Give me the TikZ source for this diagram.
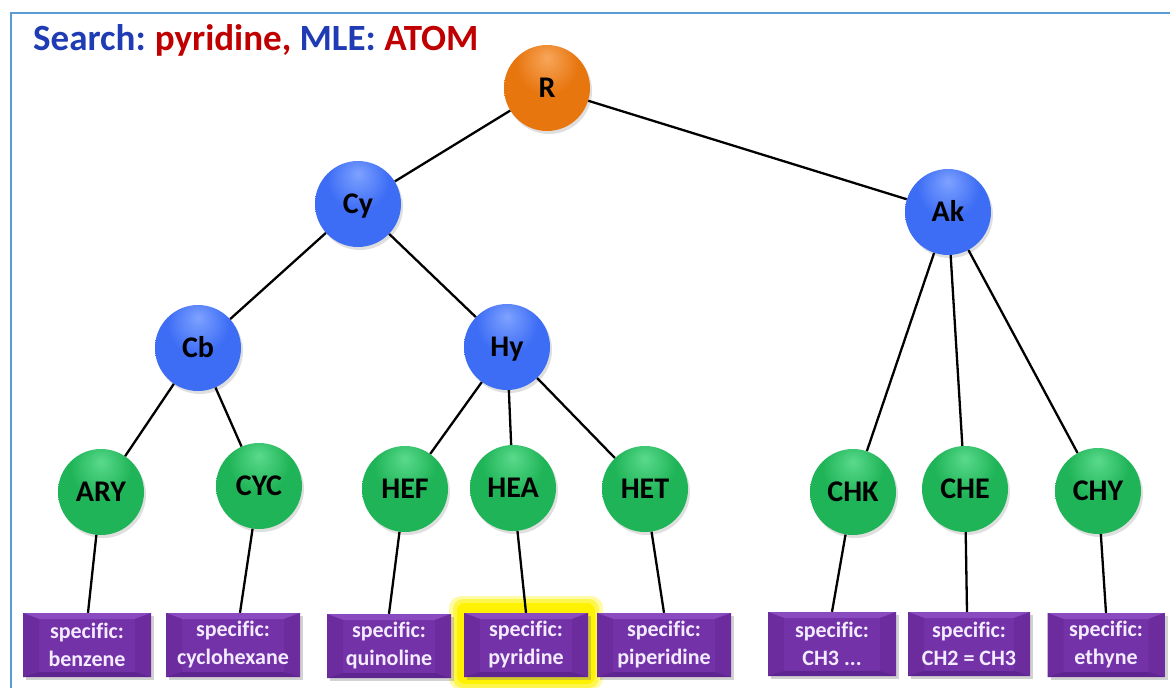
\documentclass[tikz,border=0pt]{standalone}
\usepackage{fontspec}
\setmainfont[Ligatures=NoCommon]{Carlito}
\usetikzlibrary{shadows}
\definecolor{framecol}{HTML}{5B9BD5}
\definecolor{titleblue}{HTML}{1F3CB4}
\definecolor{titlered}{HTML}{C00000}
\definecolor{purpleface}{HTML}{7432A8}
\definecolor{purpletop}{HTML}{8A4AC0}
\definecolor{purpleside}{HTML}{6C2C9E}
\definecolor{purplebot}{HTML}{5E2490}
\definecolor{boxtext}{HTML}{F3EBFF}
\definecolor{blA}{HTML}{7EA2FF}
\definecolor{blB}{HTML}{3D6DF5}
\definecolor{blC}{HTML}{2A52CC}
\definecolor{grA}{HTML}{5ADA8C}
\definecolor{grB}{HTML}{1FB457}
\definecolor{grC}{HTML}{138540}
\definecolor{orA}{HTML}{F7A65A}
\definecolor{orB}{HTML}{E8760F}
\definecolor{orC}{HTML}{BA5A06}
\pgfdeclareradialshading{sphB}{\pgfpoint{0bp}{18bp}}{color(0bp)=(blA); color(18bp)=(blB); color(48bp)=(blB); color(66bp)=(blC); color(80bp)=(blC)}
\pgfdeclareradialshading{sphG}{\pgfpoint{0bp}{18bp}}{color(0bp)=(grA); color(18bp)=(grB); color(48bp)=(grB); color(66bp)=(grC); color(80bp)=(grC)}
\pgfdeclareradialshading{sphO}{\pgfpoint{0bp}{18bp}}{color(0bp)=(orA); color(18bp)=(orB); color(48bp)=(orB); color(66bp)=(orC); color(80bp)=(orC)}
\tikzset{
  ball/.style={circle, minimum size=86pt, inner sep=0pt,
    font=\fontsize{30}{34}\selectfont\bfseries, text height=19pt, text depth=0pt,
    drop shadow={opacity=0.25, shadow xshift=2pt, shadow yshift=-3pt}},
  oball/.style={ball, shading=sphO},
  bball/.style={ball, shading=sphB},
  gball/.style={ball, shading=sphG},
  leafbox/.style={rectangle, minimum height=64pt, inner sep=0pt, fill=purpleface,
    text=boxtext, align=center, font=\fontsize{22}{28}\selectfont\bfseries,
    drop shadow={opacity=0.35, shadow xshift=3pt, shadow yshift=-3pt},
    path picture={
      \coordinate (nw) at (path picture bounding box.north west);
      \coordinate (ne) at (path picture bounding box.north east);
      \coordinate (sw) at (path picture bounding box.south west);
      \coordinate (se) at (path picture bounding box.south east);
      \fill[purpletop] (nw) -- (ne) -- ([shift={(-16pt,-6pt)}]ne) -- ([shift={(16pt,-6pt)}]nw) -- cycle;
      \fill[purpleside] (nw) -- ([shift={(16pt,-6pt)}]nw) -- ([shift={(16pt,5pt)}]sw) -- (sw) -- cycle;
      \fill[purpleside] (ne) -- ([shift={(-16pt,-6pt)}]ne) -- ([shift={(-16pt,5pt)}]se) -- (se) -- cycle;
      \fill[purplebot] (sw) -- (se) -- ([shift={(-16pt,5pt)}]se) -- ([shift={(16pt,5pt)}]sw) -- cycle;
    }},
  edge/.style={draw=black, line width=2.3pt},
}
\begin{document}
\begin{tikzpicture}[x=1pt,y=-1pt]
\useasboundingbox (0,0) rectangle (1170,688);
\fill[white] (0,0) rectangle (1170,688);
\draw[framecol, line width=2pt] (11,700) -- (11,13) -- (1180,13);

\node[anchor=base west, inner sep=0pt, font=\fontsize{37}{42}\selectfont\bfseries] (title) at (33,50)
  {\textcolor{titleblue}{Search:}\hspace{-2pt} \textcolor{titlered}{pyridine,} \textcolor{titleblue}{MLE:} \textcolor{titlered}{ATOM}};

% yellow highlight
\fill[yellow!35, rounded corners=12pt] (449,596) rectangle (603,690);
\fill[yellow!70, rounded corners=10pt] (453,599) rectangle (599,688);
\fill[yellow, rounded corners=8pt] (457,603) rectangle (595,684);

% circles
\node[oball] (R) at (547,88) {R};
\node[bball] (Cy) at (358,204) {Cy};
\node[bball] (Ak) at (948,212) {Ak};
\node[bball] (Cb) at (198,348) {Cb};
\node[bball] (Hy) at (507,347) {Hy};
\node[gball] (ARY) at (101,492) {ARY};
\node[gball] (CYC) at (259,486) {CYC};
\node[gball] (HEF) at (405,489) {HEF};
\node[gball] (HEA) at (513,488) {HEA};
\node[gball] (HET) at (645,489) {HET};
\node[gball] (CHK) at (853,492) {CHK};
\node[gball] (CHE) at (965,489) {CHE};
\node[gball] (CHY) at (1098,491) {CHY};

% boxes
\node[leafbox, minimum width=128pt] (b1) at (87,645) {specific:\\benzene};
\node[leafbox, minimum width=134pt] (b2) at (233,645) {specific:\\cyclohexane};
\node[leafbox, minimum width=124pt] (b3) at (389,646) {specific:\\quinoline};
\node[leafbox, minimum width=124pt] (b4) at (526,645) {specific:\\pyridine};
\node[leafbox, minimum width=134pt] (b5) at (664,645) {specific:\\piperidine};
\node[leafbox, minimum width=128pt] (b6) at (832,644) {specific:\\CH3 ...};
\node[leafbox, minimum width=122pt] (b7) at (969,644) {specific:\\CH2 = CH3};
\node[leafbox, minimum width=117pt] (b8) at (1106,645) {specific:\\ethyne};

% connectors
\path[edge] (R) -- (Cy);
\path[edge] (R) -- (Ak);
\path[edge] (Cy) -- (Cb);
\path[edge] (Cy) -- (Hy);
\path[edge] (Cb) -- (ARY);
\path[edge] (Cb) -- (CYC);
\path[edge] (Hy) -- (HEF);
\path[edge] (Hy) -- (HEA);
\path[edge] (Hy) -- (HET);
\path[edge] (Ak) -- (CHK);
\path[edge] (Ak) -- (CHE);
\path[edge] (Ak) -- (CHY);
\path[edge] (ARY) -- ([xshift=1pt]b1.north);
\path[edge] (CYC) -- ([xshift=7pt]b2.north);
\path[edge] (HEF) -- (b3.north);
\path[edge] (HEA) -- (b4.north);
\path[edge] (HET) -- (b5.north);
\path[edge] (CHK) -- (b6.north);
\path[edge] (CHE) -- ([xshift=-2pt]b7.north);
\path[edge] (CHY) -- (b8.north);
\end{tikzpicture}
\end{document}
